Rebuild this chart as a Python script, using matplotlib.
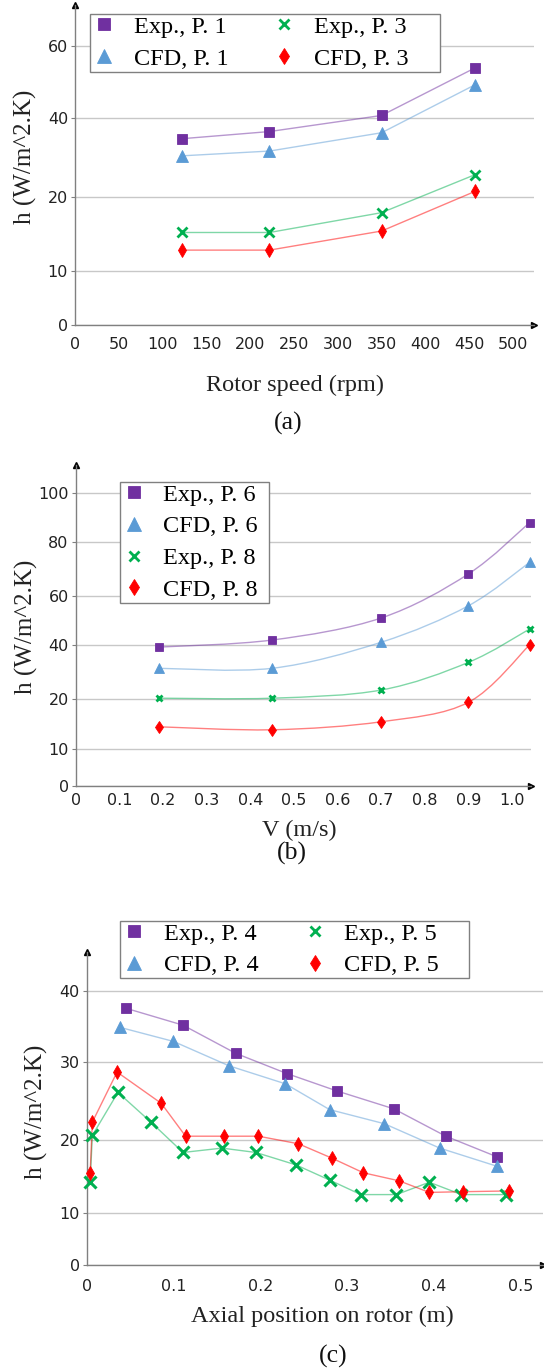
import matplotlib
matplotlib.use("Agg")  # headless
import matplotlib.pyplot as plt
import numpy as np
from matplotlib.lines import Line2D
from matplotlib.path import Path
from matplotlib.patches import PathPatch, Rectangle
from matplotlib.ticker import FixedLocator, FixedFormatter

# ── (a) heat transfer coefficient vs rotor speed
rpm = [122, 222, 350, 457]
h_exp_p1 = [34.7, 36.5, 40.6, 53.9]
h_cfd_p1 = [30.4, 31.6, 36.2, 49.2]
h_exp_p3 = [15.2, 15.2, 17.9, 25.7]
h_cfd_p3 = [12.8, 12.8, 15.4, 21.5]

# ── (b) heat transfer coefficient vs air velocity
vel = [0.19, 0.45, 0.70, 0.90, 1.04]
h_exp_p6 = [39.2, 42.0, 51.0, 68.2, 88.0]
h_cfd_p6 = [31.4, 31.4, 41.1, 56.0, 72.5]
h_exp_p8 = [20.4, 20.4, 23.4, 33.6, 46.5]
h_cfd_p8 = [14.5, 13.9, 15.5, 19.4, 40.0]

# ── (c) heat transfer coefficient along the rotor
x_exp_p4 = [0.045, 0.111, 0.172, 0.231, 0.288, 0.354, 0.414, 0.473]
h_exp_p4 = [37.6, 35.2, 31.2, 28.5, 26.3, 24.0, 20.5, 17.7]
x_cfd_p4 = [0.038, 0.100, 0.164, 0.229, 0.280, 0.343, 0.407, 0.473]
h_cfd_p4 = [34.9, 32.9, 29.5, 27.2, 23.9, 22.1, 18.9, 16.4]
x_exp_p5 = [0.004, 0.0065, 0.036, 0.074, 0.111, 0.156, 0.195, 0.241,
            0.280, 0.316, 0.357, 0.395, 0.432, 0.483]
h_exp_p5 = [14.3, 20.6, 26.1, 22.3, 18.3, 18.9, 18.3, 16.6,
            14.5, 12.5, 12.5, 14.2, 12.5, 12.5]
x_cfd_p5 = [0.004, 0.0065, 0.035, 0.086, 0.114, 0.158, 0.198, 0.244,
            0.283, 0.319, 0.360, 0.395, 0.434, 0.487]
h_cfd_p5 = [15.5, 22.3, 28.7, 24.7, 20.5, 20.5, 20.5, 19.5,
            17.5, 15.5, 14.4, 12.8, 12.9, 13.0]

# tick values and the (uneven) spacing the h axes are drawn with
a_xticks = list(range(0, 501, 50))
a_yticks = [0, 10, 20, 40, 60, 80]
a_yspan = [0, 54, 127.4, 207, 278.7, 350.4]
b_xticks = [0, 0.1, 0.2, 0.3, 0.4, 0.5, 0.6, 0.7, 0.8, 0.9, 1.0]
b_yticks = [0, 10, 20, 40, 60, 80, 100, 120]
b_yspan = [0, 36.7, 86.7, 141, 190, 243.7, 292.7, 341.7]
c_xticks = [0, 0.1, 0.2, 0.3, 0.4, 0.5]
c_yticks = [0, 10, 20, 30, 40, 50]
c_yspan = [0, 52.3, 125, 203.3, 274, 344.7]

PURPLE, BLUE, GREEN, RED = "#7030A0", "#5B9BD5", "#00B050", "#FF0000"
SERIF = "Liberation Serif"
W, H = 544, 1372

plt.rcParams["font.family"] = ["DejaVu Sans"]
fig = plt.figure(figsize=(W / 100, H / 100), dpi=100)


def add_axes_px(left, top, right, bottom):
    ax = fig.add_axes([left / W, 1 - bottom / H, (right - left) / W, (bottom - top) / H])
    ax._px = (left, top, right, bottom)
    return ax


def to_axes(ax, x, y):
    left, top, right, bottom = ax._px
    return (x - left) / (right - left), (bottom - y) / (bottom - top)


def uneven_scale(vals, span):
    fwd = lambda v: np.interp(v, vals, span)
    inv = lambda p: np.interp(p, span, vals)
    return fwd, inv


def smooth_path(x, y, fwd, inv):
    # Catmull-Rom style bezier through the points, built in scaled space
    pts = np.column_stack([np.asarray(x, float), fwd(np.asarray(y, float))])
    ext = np.vstack([pts[:1], pts, pts[-1:]])
    verts, codes = [pts[0]], [Path.MOVETO]
    for i in range(len(pts) - 1):
        p0, p1, p2, p3 = ext[i:i + 4]
        verts += [p1 + (p2 - p0) / 6, p2 - (p3 - p1) / 6, p2]
        codes += [Path.CURVE4] * 3
    verts = np.array(verts)
    verts[:, 1] = inv(verts[:, 1])
    return Path(verts, codes)


def style_axes(ax, xticks, xlabels, xlim, yvals, yspan, ylim, xpad):
    fwd, inv = uneven_scale(yvals, yspan)
    ax.set_yscale("function", functions=(fwd, inv))
    ax.set_xlim(*xlim)
    ax.set_ylim(*ylim)
    ax.xaxis.set_major_locator(FixedLocator(xticks))
    ax.xaxis.set_major_formatter(FixedFormatter(xlabels))
    shown = [v for v in yvals if v <= ylim[1]]
    ax.yaxis.set_major_locator(FixedLocator(shown))
    ax.yaxis.set_major_formatter(FixedFormatter([str(v) for v in shown]))
    ax.yaxis.set_minor_locator(FixedLocator([]))
    ax.grid(axis="y", color="#c8c8c8", lw=1.0)
    ax.set_axisbelow(True)
    for side in ("top", "right"):
        ax.spines[side].set_visible(False)
    for side in ("left", "bottom"):
        ax.spines[side].set_color("#808080")
        ax.spines[side].set_linewidth(1.0)
    ax.tick_params(axis="x", length=0, pad=xpad, labelsize=11.5, colors="#222222")
    ax.tick_params(axis="y", length=3, pad=2, labelsize=11.5, color="#808080",
                   labelcolor="#222222")
    ax.plot(0, 1, marker="^", ms=4, color="black", transform=ax.transAxes, clip_on=False)
    ax.plot(1, 0, marker=">", ms=4, color="black", transform=ax.transAxes, clip_on=False)
    return fwd, inv


def draw_series(ax, x, y, color, marker, ms, mew=0.6, curve=None):
    if curve is None:
        ax.plot(x, y, color=color, lw=1.0, alpha=0.5, zorder=2)
    else:
        ax.add_patch(PathPatch(smooth_path(x, y, *curve), fill=False,
                               edgecolor=color, lw=1.0, alpha=0.5, zorder=2))
    ax.plot(x, y, ls="none", marker=marker, ms=ms, color=color, mec=color,
            mew=mew, zorder=3, clip_on=False)


def legend_handles(labels):
    looks = [("s", PURPLE, 8.3, 0.6), ("^", BLUE, 9.5, 0.6),
             ("x", GREEN, 7, 2.0), ("d", RED, 7.8, 0.6)]
    return [Line2D([], [], ls="none", marker=m, ms=ms, color=c, mec=c, mew=mew, label=lab)
            for (m, c, ms, mew), lab in zip(looks, labels)]


def add_legend(ax, labels, anchor_px, ncol, right_pad):
    leg = ax.legend(handles=legend_handles(labels), loc="upper left",
                    bbox_to_anchor=to_axes(ax, *anchor_px), borderaxespad=0,
                    ncol=ncol, prop={"family": SERIF, "size": 17.5},
                    handlelength=1.0, handletextpad=0.72, columnspacing=1.8,
                    labelspacing=0.4, borderpad=0.08, frameon=False, numpoints=1)
    leg.set_zorder(5)
    # boxed frame with the extra room on the right hand side
    fig.canvas.draw()
    bb = leg.get_window_extent().transformed(ax.transAxes.inverted())
    extra = right_pad / (ax._px[2] - ax._px[0])
    ax.add_patch(Rectangle((bb.x0, bb.y0), bb.width + extra, bb.height,
                           transform=ax.transAxes, facecolor="white",
                           edgecolor="#808080", lw=1.0, zorder=4.9, clip_on=False))


def add_labels(ax, xlabel, xlabel_px, ylabel_px, caption, caption_px):
    ax.set_xlabel(xlabel, family=SERIF, fontsize=17.5, va="center", color="#222222")
    ax.xaxis.set_label_coords(*to_axes(ax, *xlabel_px))
    ax.set_ylabel("h (W/m^2.K)", family=SERIF, fontsize=18, va="center",
                  ha="center", color="#222222")
    ax.yaxis.set_label_coords(*to_axes(ax, *ylabel_px))
    fig.text(caption_px[0] / W, 1 - caption_px[1] / H, caption, family=SERIF,
             fontsize=18.5, ha="center", va="center", color="#111111")


# ──────────────── (a) ────────────────
ax_a = add_axes_px(75, 5, 534, 324.7)
style_axes(ax_a, a_xticks, [str(v) for v in a_xticks], (0, 524),
           a_yticks, a_yspan, (0, 71.4), xpad=9)
draw_series(ax_a, rpm, h_exp_p1, PURPLE, "s", 7.8)
draw_series(ax_a, rpm, h_cfd_p1, BLUE, "^", 9)
draw_series(ax_a, rpm, h_exp_p3, GREEN, "x", 6.5, mew=2.0)
draw_series(ax_a, rpm, h_cfd_p3, RED, "d", 7.5)
add_labels(ax_a, "Rotor speed (rpm)", (295.5, 385), (25, 156.7), "(a)", (288, 423))
add_legend(ax_a, ["Exp., P. 1", "CFD, P. 1", "Exp., P. 3", "CFD, P. 3"],
           (90.2, 14), ncol=2, right_pad=29)

# ──────────────── (b) ────────────────
ax_b = add_axes_px(75.6, 465, 530.9, 786)
curve_b = style_axes(ax_b, b_xticks, ["0"] + [f"{v:.1f}" for v in b_xticks[1:]],
                     (0, 1.043), b_yticks, b_yspan, (0, 111.5), xpad=5)
draw_series(ax_b, vel, h_exp_p6, PURPLE, "s", 5.2, curve=curve_b)
draw_series(ax_b, vel, h_cfd_p6, BLUE, "^", 7.5, curve=curve_b)
draw_series(ax_b, vel, h_exp_p8, GREEN, "x", 5, mew=2.0, curve=curve_b)
draw_series(ax_b, vel, h_cfd_p8, RED, "d", 6.5, curve=curve_b)
add_labels(ax_b, "V (m/s)", (299.3, 830), (26, 626.5), "(b)", (292, 853))
add_legend(ax_b, ["Exp., P. 6", "CFD, P. 6", "Exp., P. 8", "CFD, P. 8"],
           (119.7, 481.7), ncol=1, right_pad=9)

# ──────────────── (c) ────────────────
ax_c = add_axes_px(86.7, 951.7, 543, 1265)
style_axes(ax_c, c_xticks, ["0"] + [f"{v:.1f}" for v in c_xticks[1:]],
           (0, 0.526), c_yticks, c_yspan, (0, 45.6), xpad=10)
draw_series(ax_c, x_exp_p4, h_exp_p4, PURPLE, "s", 7.8)
draw_series(ax_c, x_cfd_p4, h_cfd_p4, BLUE, "^", 9)
draw_series(ax_c, x_exp_p5, h_exp_p5, GREEN, "x", 8, mew=2.2)
draw_series(ax_c, x_cfd_p5, h_cfd_p5, RED, "d", 7.5)
add_labels(ax_c, "Axial position on rotor (m)", (322.7, 1316.7), (36.7, 1111.7),
           "(c)", (333, 1356.7))
add_legend(ax_c, ["Exp., P. 4", "CFD, P. 4", "Exp., P. 5", "CFD, P. 5"],
           (120.4, 920.7), ncol=2, right_pad=28)

fig.savefig("out.png", dpi=100, facecolor="white")
